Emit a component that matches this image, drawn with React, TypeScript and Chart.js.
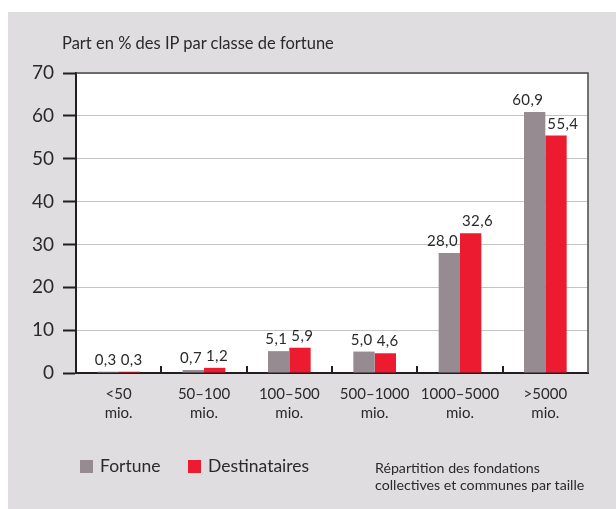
import React, { useEffect, useRef } from 'react';
import { Chart, registerables } from 'chart.js';

Chart.register(...registerables);

const categories: string[][] = [
  ['<50', 'mio.'],
  ['50–100', 'mio.'],
  ['100–500', 'mio.'],
  ['500–1000', 'mio.'],
  ['1000–5000', 'mio.'],
  ['>5000', 'mio.'],
];
const fortune = [0.3, 0.7, 5.1, 5.0, 28.0, 60.9];
const destinataires = [0.3, 1.2, 5.9, 4.6, 32.6, 55.4];
const yMin = 0;
const yMax = 70;
const yStep = 10;
const titleText = 'Part en % des IP par classe de fortune';
const legendLabels = ['Fortune', 'Destinataires'];
const noteLines = ['Répartition des fondations', 'collectives et communes par taille'];

const FONT = 'Lato, "Open Sans", sans-serif';
const TEXT = '#2a2a2a';
const GRAY = '#968b91';
const RED = '#ed1b2f';
const BG = '#e0dde0';
const AXIS = '#231f20';

const fmt = (v: number) => v.toFixed(1).replace('.', ',');

const decorPlugin = {
  id: 'decor',
  beforeDraw(chart: any) {
    const { ctx, chartArea: a, width, height } = chart;
    ctx.save();
    ctx.fillStyle = BG;
    ctx.fillRect(0, 0, width, height);
    ctx.fillStyle = '#ffffff';
    ctx.fillRect(a.left, a.top, a.right - a.left, a.bottom - a.top);
    ctx.restore();
  },
  afterDatasetsDraw(chart: any) {
    const { ctx, chartArea: a } = chart;
    ctx.save();
    // top & right border
    ctx.strokeStyle = '#4a4a4a';
    ctx.lineWidth = 1.5;
    ctx.beginPath();
    ctx.moveTo(a.left, a.top);
    ctx.lineTo(a.right, a.top);
    ctx.lineTo(a.right, a.bottom);
    ctx.stroke();
    // inward category ticks
    const xs = chart.scales.x;
    ctx.strokeStyle = AXIS;
    ctx.lineWidth = 2;
    for (let i = 1; i < categories.length; i++) {
      const p = Math.round((xs.getPixelForValue(i - 1) + xs.getPixelForValue(i)) / 2);
      ctx.beginPath();
      ctx.moveTo(p, a.bottom);
      ctx.lineTo(p, a.bottom - 7);
      ctx.stroke();
    }
    // value labels
    ctx.fillStyle = TEXT;
    ctx.font = `15px ${FONT}`;
    try {
      (ctx as any).letterSpacing = '0.4px';
    } catch (e) {}
    ctx.textBaseline = 'alphabetic';
    chart.data.datasets.forEach((ds: any, i: number) => {
      const meta = chart.getDatasetMeta(i);
      meta.data.forEach((bar: any, j: number) => {
        const w = bar.width;
        if (i === 0) {
          ctx.textAlign = 'right';
          ctx.fillText(fmt(ds.data[j]), bar.x + w / 2 - 2, bar.y - 7);
        } else {
          ctx.textAlign = 'left';
          ctx.fillText(fmt(ds.data[j]), bar.x - w / 2 + 2, bar.y - 7);
        }
      });
    });
    ctx.restore();
  },
};

export default function App() {
  const ref = useRef<HTMLCanvasElement | null>(null);

  useEffect(() => {
    if (!ref.current) return;
    const chart = new Chart(ref.current, {
      type: 'bar',
      data: {
        labels: categories,
        datasets: [
          { label: legendLabels[0], data: fortune, backgroundColor: GRAY, borderWidth: 0 },
          { label: legendLabels[1], data: destinataires, backgroundColor: RED, borderWidth: 0 },
        ],
      },
      options: {
        responsive: false,
        animation: false,
        layout: { padding: { left: 0, right: 28, top: 61, bottom: 0 } },
        datasets: { bar: { categoryPercentage: 0.5, barPercentage: 1.0 } },
        plugins: {
          legend: { display: false },
          title: { display: false },
          tooltip: { enabled: false },
        },
        scales: {
          x: {
            grid: { display: false, drawTicks: false },
            border: { display: true, color: AXIS, width: 2 },
            ticks: {
              color: TEXT,
              font: { family: FONT, size: 15, lineHeight: 1.25 },
              padding: 12,
              maxRotation: 0,
              autoSkip: false,
            },
            afterFit: (s: any) => {
              s.height = 136;
            },
          },
          y: {
            min: yMin,
            max: yMax,
            ticks: {
              stepSize: yStep,
              color: TEXT,
              font: { family: FONT, size: 19 },
              padding: 9,
            },
            grid: {
              color: (c: any) => (c.tick && c.tick.value === 0 ? AXIS : '#c4c4c4'),
              lineWidth: 1,
              tickLength: 13,
              tickColor: AXIS,
              tickWidth: 2,
            },
            border: { display: true, color: AXIS, width: 2 },
            afterFit: (s: any) => {
              s.width = 68;
            },
          },
        },
      },
      plugins: [decorPlugin],
    } as any);
    return () => chart.destroy();
  }, []);

  const txt: React.CSSProperties = { position: 'absolute', color: TEXT, fontFamily: FONT, whiteSpace: 'nowrap' };

  return (
    <div style={{ position: 'fixed', left: 8, top: 12, width: 608, height: 497, background: BG }}>
      <canvas ref={ref} width={608} height={497} style={{ display: 'block' }} />
      <div style={{ ...txt, left: 54, top: 22, fontSize: 16.5, lineHeight: '18px' }}>{titleText}</div>
      <div style={{ position: 'absolute', left: 72, top: 448, width: 13, height: 13, background: GRAY }} />
      <div style={{ ...txt, left: 92, top: 445, fontSize: 17.5, lineHeight: '18px' }}>{legendLabels[0]}</div>
      <div style={{ position: 'absolute', left: 180, top: 448, width: 13, height: 13, background: RED }} />
      <div style={{ ...txt, left: 200, top: 445, fontSize: 17.5, lineHeight: '18px' }}>{legendLabels[1]}</div>
      <div style={{ ...txt, left: 367, top: 447, fontSize: 14.2, lineHeight: '17px' }}>
        {noteLines.map((l, i) => (
          <div key={i}>{l}</div>
        ))}
      </div>
    </div>
  );
}
